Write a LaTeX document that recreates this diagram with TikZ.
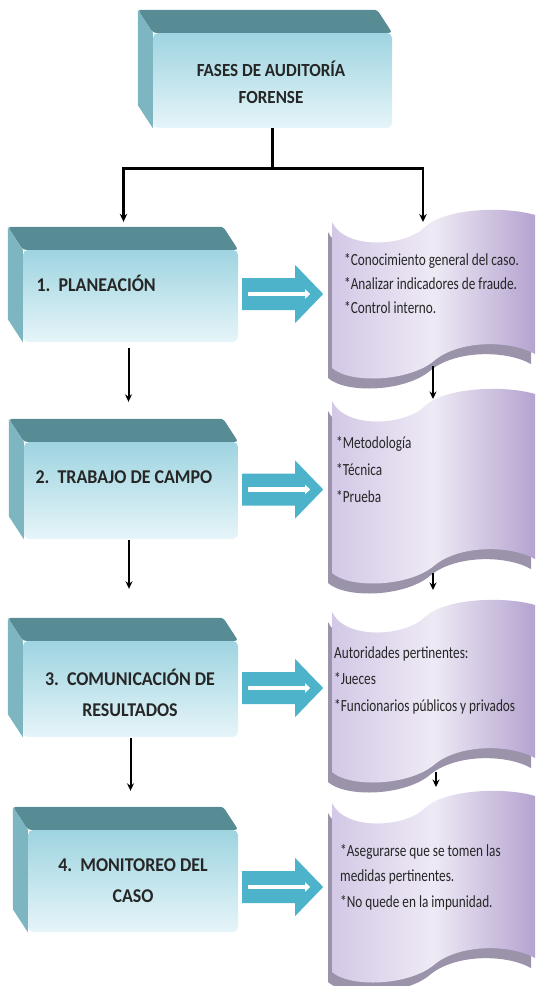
\documentclass[tikz,border=0pt]{standalone}
\usepackage{fontspec}
\setmainfont{Carlito}
\newfontfamily\boxfont[FakeStretch=0.92]{Carlito}
\newfontfamily\docfont[FakeStretch=0.78]{Carlito}
\usetikzlibrary{calc,backgrounds,arrows.meta}

\definecolor{topface}{HTML}{588C95}
\definecolor{sideface}{HTML}{7DB6C0}
\definecolor{frontA}{HTML}{9ED4E0}
\definecolor{frontB}{HTML}{E6F5F9}
\definecolor{arrowblue}{HTML}{4DB3CA}
\definecolor{docL}{HTML}{D3C8E6}
\definecolor{docM}{HTML}{EEEAF5}
\definecolor{docR}{HTML}{B5A3D0}
\definecolor{docShadow}{HTML}{9B93AA}

\newcommand\boxfaces[1]{%
\begin{pgfonlayer}{background}
\fill[topface, rounded corners=3pt] (#1.north west) -- ($(#1.north west)+(-15,-23)$) -- ($(#1.north east)+(-15,-23)$) -- (#1.north east) -- cycle;
\fill[sideface] (#1.north west) -- ($(#1.north west)+(-15,-23)$) -- ($(#1.south west)+(-15,-23)$) -- (#1.south west) -- cycle;
\end{pgfonlayer}}

\newcommand\docpath[3]{%
\path[#1] (332,#2) .. controls (345,#2+28) and (405,#2+25) .. (425,#2+5)
  .. controls (445,#2-14) and (505,#2-16) .. (535,#2-7)
  -- (535,#3-14) .. controls (510,#3-28) and (460,#3-28) .. (435,#3-8)
  .. controls (410,#3+14) and (350,#3+16) .. (332,#3) -- cycle;}

\newcommand\docshape[2]{%
\docpath{fill=docShadow, shift={(-4,10)}}{#1}{#2}%
\docpath{left color=docL, right color=docR, middle color=docM}{#1}{#2}}

\newcommand\bigarrow[2]{%
\fill[arrowblue] ($(#1.east)+(4,#2-16)$) -- ++(53,0) -- ++(0,-13) -- ++(28,29) -- ++(-28,29) -- ++(0,-13) -- ++(-53,0) -- cycle;
\draw[white, line width=4.5pt, -{Triangle[length=5pt,width=9pt]}] ($(#1.east)+(10,#2)$) -- ++(62,0);}

\begin{document}
\begin{tikzpicture}[x=1pt,y=-1pt,
 front/.style={rounded corners=5pt, top color=frontA, bottom color=frontB, draw=none, inner sep=0pt},
 boxtext/.style={font=\boxfont\bfseries\fontsize{19.5}{31}\selectfont, align=center, text=black!85},
 doctext/.style={font=\docfont\fontsize{17}{24}\selectfont, align=left, anchor=north west, inner sep=0pt, text=black!85},
 conn/.style={line width=2pt, -{Stealth[length=7.5pt,width=7pt]}},
]
\useasboundingbox (0,0) rectangle (540,986);

% ---- boxes (front faces) ----
\node[front, minimum width=239pt, minimum height=95pt] (b0) at (272.5,80.5) {};
\node[front, minimum width=215pt, minimum height=92pt] (b1) at (130.5,296) {};
\node[front, minimum width=214pt, minimum height=97pt] (b2) at (131,490.5) {};
\node[front, minimum width=215pt, minimum height=96pt] (b3) at (130.5,689) {};
\node[front, minimum width=210pt, minimum height=102pt] (b4) at (133,881) {};
\boxfaces{b0}\boxfaces{b1}\boxfaces{b2}\boxfaces{b3}\boxfaces{b4}

% ---- box texts ----
\node[boxtext, font=\boxfont\bfseries\fontsize{18.5}{27}\selectfont] (t0) at (271,82) {FASES DE AUDITORÍA\\FORENSE};
\node[boxtext, anchor=west] (t1) at (33,283) {1.\ \ PLANEACIÓN};
\node[boxtext, anchor=west] (t2) at (32,477) {2.\ \ TRABAJO DE CAMPO};
\node[boxtext] (t3) at (130,693) {3.\ \ COMUNICACIÓN DE\\RESULTADOS};
\node[boxtext] (t4) at (133,881) {4.\ \ MONITOREO DEL\\CASO};

% ---- documents ----
\docshape{222}{368}
\docshape{401}{573}
\docshape{612}{772}
\docshape{803}{972}

\node[doctext] (d1) at (344,253.5) {*Conocimiento general del caso.\\*Analizar indicadores de fraude.\\*Control interno.};
\node[doctext, font=\docfont\fontsize{17}{27}\selectfont] (d2) at (336,436.5) {*Metodología\\*Técnica\\*Prueba};
\node[doctext, font=\docfont\fontsize{17}{26.5}\selectfont] (d3) at (334,646) {Autoridades pertinentes:\\*Jueces\\*Funcionarios públicos y privados};
\node[doctext, font=\docfont\fontsize{17}{25.5}\selectfont] (d4) at (340,844) {*Asegurarse que se tomen las\\medidas pertinentes.\\*No quede en la impunidad.};

% ---- top connector ----
\coordinate (split) at ($(b0.south)+(0,40)$);
\coordinate (a1end) at ($(b1.north)+(-7,-28)$);
\coordinate (d1top) at (423,222);
\draw[line width=2.6pt] (b0.south) -- (split);
\draw[line width=2.6pt, -{Stealth[length=8pt,width=7.5pt]}] (split) -| (a1end);
\draw[line width=2.6pt, -{Stealth[length=8pt,width=7.5pt]}] (split) -| (d1top);

% ---- left vertical connectors ----
\coordinate (s1) at ($(b1.south)+(-2,6)$);
\coordinate (e1) at ($(b2.north)+(0,-40)$);
\draw[conn] (s1) -- (s1 |- e1);
\coordinate (s2) at ($(b2.south)+(-2,1)$);
\coordinate (e2) at ($(b3.north)+(0,-52)$);
\draw[conn] (s2) -- (s2 |- e2);
\coordinate (s3) at ($(b3.south)+(0,1)$);
\coordinate (e3) at ($(b4.north)+(0,-39)$);
\draw[conn] (s3) -- (s3 |- e3);

% ---- right vertical connectors ----
\coordinate (r1) at (433,366);
\coordinate (r1e) at (433,399);
\draw[conn] (r1) -- (r1e);
\coordinate (r2) at (433,573);
\coordinate (r2e) at (433,590);
\draw[conn] (r2) -- (r2e);
\coordinate (r3) at (436,772);
\coordinate (r3e) at (436,787);
\draw[conn] (r3) -- (r3e);

% ---- block arrows ----
\bigarrow{b1}{-2}
\bigarrow{b2}{-1}
\bigarrow{b3}{-1}
\bigarrow{b4}{6}
\end{tikzpicture}
\end{document}
